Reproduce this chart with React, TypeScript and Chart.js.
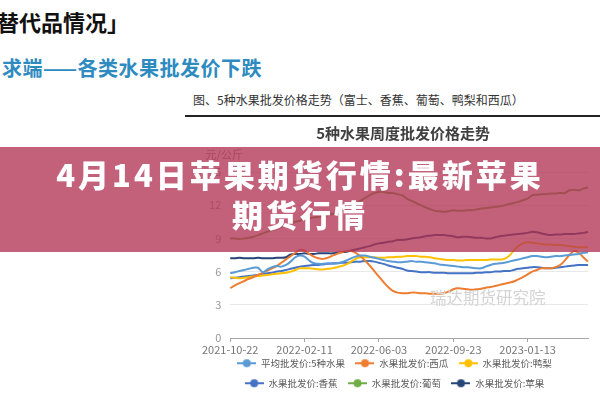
import React, { useEffect, useRef } from "react";
import { Chart, registerables } from "chart.js";

Chart.register(...registerables);

const START = Date.UTC(2021, 9, 22);
const categories: string[] = Array.from({ length: 78 }, (_, i) =>
  new Date(START + i * 7 * 86400000).toISOString().slice(0, 10)
);
const xTickLabels = ["2021-10-22", "2022-02-11", "2022-06-03", "2022-09-23", "2023-01-13"];
const chartTitle = "5种水果周度批发价格走势";
const unitLabel = "元/公斤";

const seriesNames = [
  "平均批发价:5种水果",
  "水果批发价:西瓜",
  "水果批发价:鸭梨",
  "水果批发价:香蕉",
  "水果批发价:葡萄",
  "水果批发价:苹果",
];

const avgFive = [5.85,5.95,6.05,6.15,6.25,6.35,6.35,5.95,6.2,6.4,
  6.5,6.45,6.6,6.9,7.3,7.45,7.35,7.0,6.75,6.7,
  6.7,6.75,6.7,6.75,6.85,7.0,7.2,7.35,7.45,7.45,
  7.35,7.25,7.15,7.05,6.95,6.9,6.85,6.85,6.9,6.95,
  6.9,6.9,6.85,6.8,6.75,6.65,6.6,6.55,6.5,6.45,
  6.4,6.4,6.35,6.3,6.3,6.45,6.6,6.7,6.75,6.8,
  6.9,7.0,7.1,7.2,7.3,7.4,7.4,7.35,7.3,7.35,
  7.4,7.4,7.45,7.5,7.55,7.6,7.7,7.75];

const watermelon = [4.5,4.75,4.95,5.15,5.35,5.5,5.7,5.9,6.1,6.3,
  6.5,6.8,7.1,7.4,7.7,7.95,7.9,7.6,7.35,7.2,
  7.15,7.25,7.45,7.6,7.75,7.85,7.85,7.7,7.4,7.0,
  6.55,6.05,5.55,5.05,4.6,4.25,4.1,4.05,4.05,4.1,
  4.1,4.05,4.05,4.0,4.0,4.0,4.05,4.2,4.4,4.5,
  4.45,4.4,4.35,4.4,4.45,4.55,4.6,4.7,4.8,4.9,
  5.0,5.1,5.3,5.5,5.75,6.0,6.15,6.3,6.3,6.3,
  6.4,6.6,7.0,7.5,7.85,7.7,7.3,6.9];

const pear = [5.5,5.45,5.4,5.45,5.5,5.55,5.6,5.65,5.7,5.75,
  5.8,5.85,5.9,6.0,6.15,6.3,6.3,6.3,6.25,6.2,
  6.2,6.25,6.3,6.4,6.5,6.65,6.9,7.15,7.3,7.3,
  7.3,7.3,7.25,7.25,7.3,7.3,7.35,7.35,7.4,7.4,
  7.4,7.35,7.35,7.3,7.2,7.15,7.1,7.05,7.05,7.0,
  7.0,7.05,7.05,7.05,7.05,7.05,7.1,7.1,7.1,7.15,
  7.4,7.9,8.3,8.55,8.65,8.6,8.55,8.5,8.45,8.45,
  8.4,8.4,8.35,8.3,8.25,8.2,8.2,8.2];

const banana = [5.4,5.45,5.5,5.55,5.6,5.65,5.7,5.8,5.85,5.9,
  6.0,6.05,6.15,6.25,6.35,6.45,6.5,6.55,6.6,6.6,
  6.65,6.7,6.75,6.75,6.8,6.8,6.85,6.9,6.9,6.95,
  6.95,6.9,6.8,6.7,6.55,6.45,6.35,6.25,6.1,6.05,
  6.0,5.95,5.95,5.95,5.9,5.9,5.9,5.85,5.85,5.85,
  5.85,5.85,5.85,5.9,5.9,5.95,5.95,6.0,6.0,6.05,
  6.05,6.15,6.25,6.3,6.35,6.4,6.4,6.35,6.3,6.3,
  6.35,6.4,6.45,6.5,6.55,6.6,6.6,6.6];

const grape = [9.0,9.0,8.95,9.0,9.05,9.15,9.3,9.45,9.6,9.75,
  9.9,10.05,10.2,10.35,10.5,10.6,10.7,10.8,10.9,10.95,
  11.0,11.1,11.2,11.35,11.5,11.7,11.9,12.15,12.4,12.65,
  12.9,13.1,13.2,13.2,13.1,13.1,13.0,12.9,12.6,12.4,
  12.2,12.0,11.8,11.65,11.5,11.45,11.4,11.45,11.55,11.5,
  11.5,11.55,11.55,11.6,11.7,11.75,11.8,11.85,11.9,12.0,
  12.1,12.2,12.3,12.45,12.6,12.9,12.95,13.0,13.0,13.05,
  13.05,13.1,13.1,13.35,13.4,13.35,13.5,13.6];

const apple = [7.2,7.2,7.25,7.2,7.2,7.2,7.25,7.2,7.2,7.2,
  7.25,7.25,7.3,7.55,7.6,7.6,7.65,7.6,7.6,7.65,
  7.65,7.65,7.65,7.7,7.75,7.8,7.9,8.0,8.1,8.2,
  8.3,8.45,8.55,8.6,8.7,8.75,8.85,8.85,8.9,9.0,
  9.05,9.1,9.2,9.25,9.3,9.3,9.3,9.25,9.2,9.1,
  9.15,9.15,9.1,9.05,9.05,9.0,9.0,9.1,9.2,9.25,
  9.3,9.35,9.4,9.45,9.5,9.6,9.55,9.45,9.35,9.3,
  9.35,9.35,9.4,9.4,9.4,9.45,9.5,9.6];

const seriesValues = [avgFive, watermelon, pear, banana, grape, apple];
const seriesColors = ["#5b9bd5", "#ed7d31", "#ffc000", "#4472c4", "#70ad47", "#264478"];

const FONT = '"Noto Sans CJK SC", "Noto Sans", sans-serif';

function makeMarker(color: string) {
  const c = document.createElement("canvas");
  c.width = 19;
  c.height = 10;
  const g = c.getContext("2d")!;
  g.strokeStyle = color;
  g.lineWidth = 2;
  g.beginPath();
  g.moveTo(0, 5);
  g.lineTo(19, 5);
  g.stroke();
  g.fillStyle = color;
  g.beginPath();
  g.arc(9.5, 5, 4, 0, Math.PI * 2);
  g.fill();
  return c;
}

const decorPlugin = {
  id: "decor",
  afterLayout(chart: any) {
    // let the x-axis label area overlap the legend box so the labels are not clipped
    const x = chart.scales.x;
    if (x) x.bottom = x.top + 24;
  },
  afterDraw(chart: any) {
    const { ctx, chartArea } = chart;
    ctx.save();
    ctx.textAlign = "center";
    ctx.textBaseline = "middle";
    ctx.font = `bold 15px ${FONT}`;
    ctx.fillStyle = "#404040";
    ctx.fillText(chartTitle, (chartArea.left + chartArea.right) / 2 - 6, chartArea.top - 39);
    ctx.font = `11px ${FONT}`;
    ctx.fillStyle = "#888";
    ctx.fillText(unitLabel, chartArea.left - 6, chartArea.top - 17);
    ctx.restore();
  },
};

export default function App() {
  const ref = useRef<HTMLCanvasElement | null>(null);
  useEffect(() => {
    document.body.style.margin = "0";
    Chart.defaults.font.family = FONT;
    const chart = new Chart(ref.current!, {
      type: "line",
      data: {
        labels: categories,
        datasets: seriesNames.map((name, k) => ({
          label: name,
          data: seriesValues[k],
          borderColor: seriesColors[k],
          backgroundColor: seriesColors[k],
          borderWidth: 2,
          pointRadius: 0,
          pointStyle: makeMarker(seriesColors[k]) as any,
          tension: 0.35,
        })),
      },
      options: {
        animation: false,
        responsive: false,
        layout: { padding: { left: 0, right: 12, top: 52, bottom: 2 } },
        plugins: {
          title: { display: false },
          legend: {
            position: "bottom",
            labels: {
              usePointStyle: true,
              pointStyleWidth: 19,
              color: "#595959",
              font: { size: 9.5, family: FONT },
              padding: 10.5,
            },
          },
          tooltip: { enabled: false },
        },
        scales: {
          x: {
            type: "category",
            grid: {
              drawOnChartArea: false,
              drawTicks: true,
              tickLength: 4,
              color: "#a6a6a6",
            },
            border: { color: "#a6a6a6" },
            ticks: {
              autoSkip: false,
              maxRotation: 0,
              padding: 1,
              color: "#777",
              font: { size: 11, family: FONT },
              callback: (_v: any, idx: number) =>
                xTickLabels.includes(categories[idx]) ? categories[idx] : null,
            },
            afterFit: (s: any) => {
              s.height = 10;
            },
          },
          y: {
            min: 0,
            max: 15,
            ticks: {
              stepSize: 3,
              color: "#999",
              padding: 9,
              font: { size: 11, family: FONT },
            },
            grid: { color: "#e8e8e8", drawTicks: false },
            border: { display: false },
            afterFit: (s: any) => {
              s.width = 27;
            },
          },
        },
      },
      plugins: [decorPlugin],
    });
    return () => chart.destroy();
  }, []);

  return (
    <div
      style={{
        position: "fixed",
        left: 0,
        top: 0,
        width: 600,
        height: 400,
        background: "#fff",
        overflow: "hidden",
        fontFamily: FONT,
      }}
    >
      <div
        style={{
          position: "absolute",
          left: -3,
          top: 6,
          fontSize: 22,
          fontWeight: 700,
          color: "#111",
          lineHeight: "30px",
          whiteSpace: "nowrap",
        }}
      >
        替代品情况」
      </div>
      <div
        style={{
          position: "absolute",
          left: 2,
          top: 54,
          fontSize: 20,
          fontWeight: 700,
          color: "#2e8bc0",
          lineHeight: "28px",
          letterSpacing: 0.5,
          whiteSpace: "nowrap",
        }}
      >
        求端——各类水果批发价下跌
      </div>
      <div
        style={{
          position: "absolute",
          left: 193,
          top: 92,
          fontSize: 12,
          color: "#333",
          lineHeight: "16px",
          whiteSpace: "nowrap",
        }}
      >
        图、5种水果批发价格走势（富士、香蕉、葡萄、鸭梨和西瓜）
      </div>
      <div
        style={{
          position: "absolute",
          left: 185,
          top: 115,
          width: 415,
          height: 2,
          background: "#222",
        }}
      />
      <div style={{ position: "absolute", left: 201, top: 120, width: 399, height: 280 }}>
        <canvas ref={ref} width={399} height={280} />
      </div>
      <div
        style={{
          position: "absolute",
          left: 430,
          top: 286,
          fontSize: 16.5,
          color: "#d4d4d4",
          lineHeight: "22px",
          whiteSpace: "nowrap",
        }}
      >
        瑞达期货研究院
      </div>
      <div
        style={{
          position: "absolute",
          left: 0,
          top: 147,
          width: 600,
          height: 105,
          background: "rgba(178, 52, 86, 0.78)",
        }}
      >
        <div
          style={{
            position: "absolute",
            left: 0,
            top: 6.5,
            width: 600,
            textAlign: "center",
            color: "#fff",
            fontSize: 31,
            fontWeight: 900,
            lineHeight: "40.5px",
            letterSpacing: 3,
            whiteSpace: "nowrap",
          }}
        >
          4月14日苹果期货行情:最新苹果
          <br />
          期货行情
        </div>
      </div>
    </div>
  );
}
